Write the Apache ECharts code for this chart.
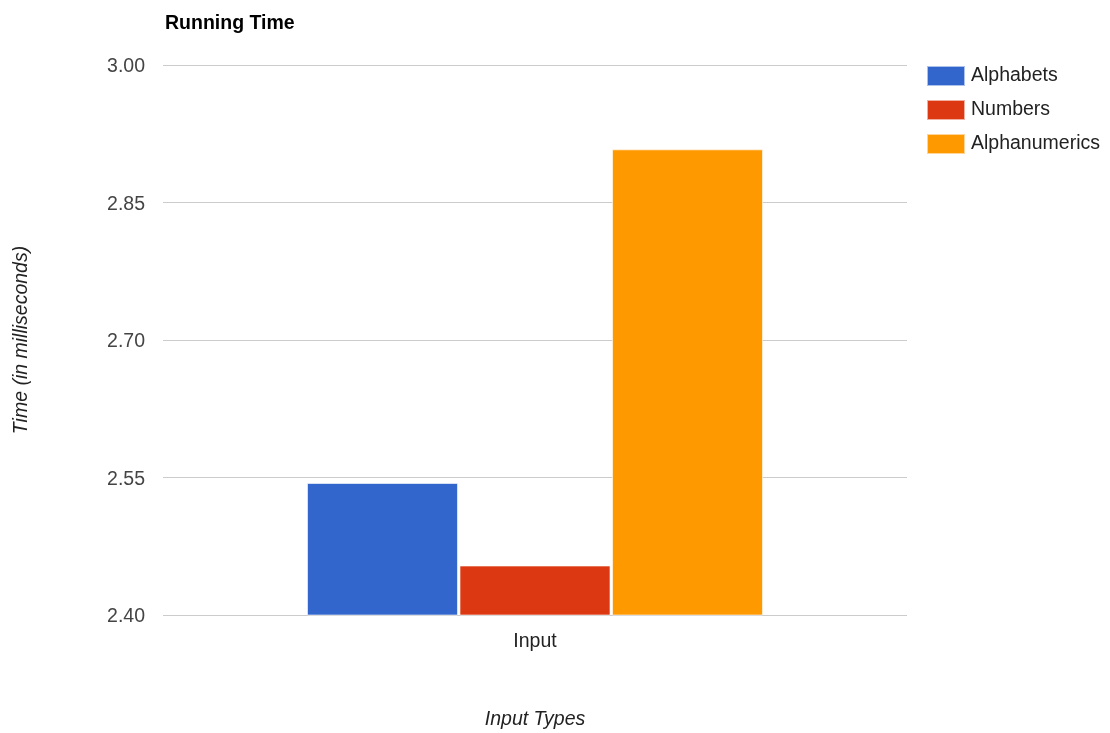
<!DOCTYPE html>
<html>
<head>
<meta charset="utf-8">
<script src="https://cdn.jsdelivr.net/npm/echarts@6/dist/echarts.min.js"></script>
<style>html,body{margin:0;padding:0;background:#fff}#c{width:1110px;height:733px}</style>
</head>
<body>
<div id="c"></div>
<script>
var categories = ['Input'];
var seriesNames = ['Alphabets', 'Numbers', 'Alphanumerics'];
var alphabets = [2.544];
var numbers = [2.454];
var alphanumerics = [2.908];
var colors = ['#3366cc', '#dc3912', '#ff9900'];
var yMin = 2.40, yMax = 3.00, yStep = 0.15;

var chart = echarts.init(document.getElementById('c'));
var font = 'Liberation Sans, Arial, sans-serif';
var fs = 19.5;
var values = [alphabets, numbers, alphanumerics];
chart.setOption({
  animation: false,
  color: colors,
  title: {
    text: 'Running Time',
    left: 160, top: 9,
    textStyle: { fontFamily: font, fontSize: fs, fontWeight: 'bold', color: '#000' }
  },
  legend: {
    orient: 'vertical',
    left: 926, top: 65, padding: 0,
    itemWidth: 38, itemHeight: 20, itemGap: 12,
    icon: 'rect',
    textStyle: { fontFamily: font, fontSize: fs, color: '#222', padding: [2, 0, 0, 1] },
    data: seriesNames
  },
  grid: { left: 163, right: 203, top: 65, bottom: 118, containLabel: false, outerBoundsMode: 'none' },
  xAxis: {
    type: 'category',
    data: categories,
    name: 'Input Types',
    nameLocation: 'middle',
    nameGap: 95,
    nameTextStyle: { fontFamily: font, fontSize: fs, fontStyle: 'italic', color: '#222' },
    axisLine: { show: false },
    axisTick: { show: false },
    axisLabel: { fontFamily: font, fontSize: fs, color: '#222', margin: 17 }
  },
  yAxis: {
    type: 'value',
    min: yMin, max: yMax, interval: yStep,
    name: 'Time (in milliseconds)',
    nameLocation: 'middle',
    nameGap: 131,
    nameTextStyle: { fontFamily: font, fontSize: fs, fontStyle: 'italic', color: '#222' },
    axisLine: { show: false },
    axisTick: { show: false },
    splitLine: { lineStyle: { color: '#cccccc', width: 1 } },
    axisLabel: {
      fontFamily: font, fontSize: fs, color: '#444', margin: 18,
      formatter: function (v) { return '{t|' + v.toFixed(2) + '}'; },
      rich: { t: { fontFamily: font, fontSize: fs, color: '#444', padding: [4, 0, 0, 0] } }
    }
  },
  series: seriesNames.map(function (n, i) {
    return {
      name: n, type: 'bar', data: values[i],
      barWidth: 151, barGap: '1%',
      itemStyle: { borderColor: 'rgba(255,255,255,0.6)', borderWidth: 1 }
    };
  })
});
</script>
</body>
</html>
